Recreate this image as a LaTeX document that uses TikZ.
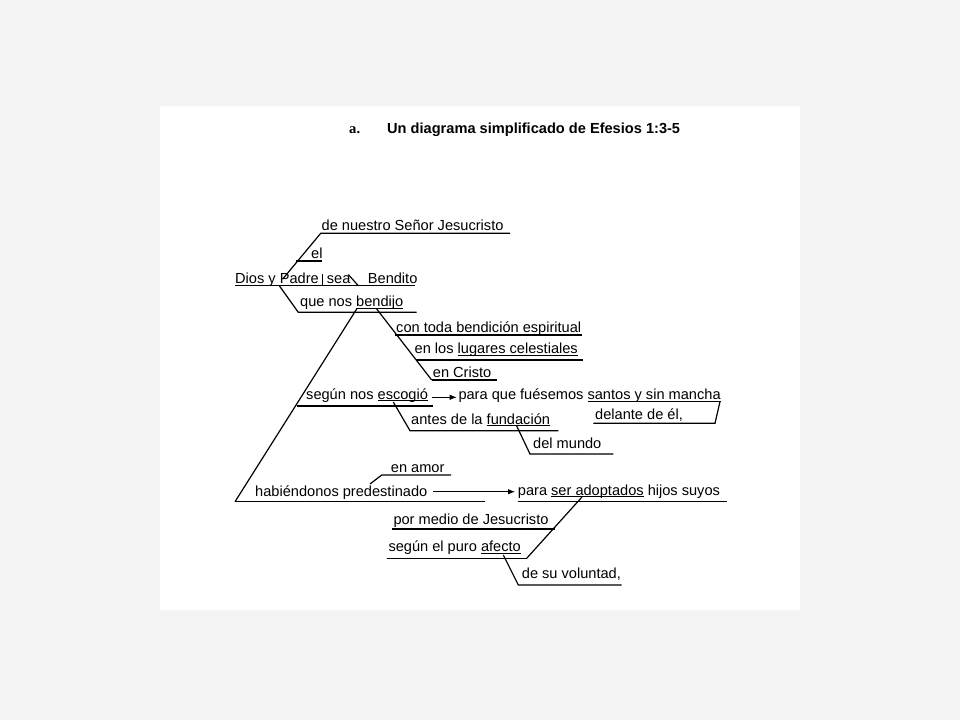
\documentclass[tikz,border=0pt]{standalone}
\usepackage{fontspec}
\setmainfont{Liberation Sans}
\newfontfamily\serifbold{Liberation Serif}
\usepackage{tikz}
\usetikzlibrary{arrows.meta}

\definecolor{pagegray}{RGB}{243,243,243}
% underlined word, as in the printed diagram
\newcommand\undl[1]{\setbox0\hbox{#1}\rlap{\rule[-2.2pt]{\wd0}{0.9pt}}\box0\relax}

\begin{document}
\begin{tikzpicture}[x=1pt,y=-1pt,
        lbl/.style={anchor=base west,inner sep=0pt,font=\fontsize{14.6}{17}\selectfont},
        bar/.style={line width=1.2pt},
        arr/.style={line width=0.9pt,-{Latex[length=7pt,width=5.5pt]}}]
            \fill[pagegray] (0,0) rectangle (960,720);
            \fill[white] (160,106) rectangle (800,610);
            \useasboundingbox (0,0) rectangle (960,720);
            % title
            \node[lbl,font=\serifbold\bfseries\fontsize{14.6}{17}\selectfont] (item) at (349,133.5) {a.};
            \node[lbl,font=\bfseries\fontsize{14.6}{17}\selectfont] (title) at (387,133.5) {Un diagrama simplificado de Efesios 1:3-5};
            % subject and verb
            \node[lbl] (dios) at (235,283.5) {Dios y Padre};
            \node[lbl] (sea) at (326.7,283.5) {sea};
            \node[lbl] (bendito) at (367.7,283.5) {Bendito};
            \coordinate (mainL) at (235,285.7);
            \coordinate (mainR) at (415,285.7);
            \coordinate (divT) at (322.7,274);
            \coordinate (divB) at (322.7,285.7);
            \coordinate (predT) at (348.3,274.5);
            \coordinate (predB) at (358.3,285.7);
            \draw[bar] (mainL) -- (mainR);
            \draw[bar] (divT) -- (divB);
            \draw[bar] (predT) -- (predB);
            % modifiers of Padre
            \node[lbl] (nuestro) at (321.5,230.5) {de nuestro Señor Jesucristo};
            \node[lbl] (el) at (311,258.5) {el};
            \coordinate (nuestroL) at (320.7,233.3);
            \coordinate (nuestroR) at (510,233.3);
            \coordinate (nuestroF) at (282.7,279);
            \coordinate (elL) at (296,261);
            \coordinate (elR) at (321.5,261);
            \draw[bar] (nuestroF) -- (nuestroL) -- (nuestroR);
            \draw[bar] (elL) -- (elR);
            % que nos bendijo
            \node[lbl] (bendijo) at (300,306.5) {que nos \undl{bendijo}};
            \coordinate (queT) at (279.3,285.7);
            \coordinate (queL) at (298.3,312.3);
            \coordinate (queR) at (416.7,312.3);
            \draw[bar] (queT) -- (queL) -- (queR);
            \coordinate (bigT) at (356.7,309);
            \coordinate (bigB) at (235,501.7);
            \draw[bar] (bigT) -- (bigB);
            \coordinate (conT) at (376.7,309);
            \coordinate (conB) at (431.7,380);
            \draw[bar] (conT) -- (conB);
            \node[lbl] (bendicion) at (396,332.5) {con toda bendición espiritual};
            \node[lbl] (lugares) at (414.5,353.3) {en los \undl{lugares celestiales}};
            \node[lbl] (cristo) at (432.7,377.5) {en Cristo};
            \coordinate (conL) at (395,335);
            \coordinate (conR) at (581.7,335);
            \coordinate (lugL) at (415.5,360);
            \coordinate (lugR) at (582.7,360);
            \coordinate (criR) at (496.7,380);
            \draw[bar] (conL) -- (conR);
            \draw[bar] (lugL) -- (lugR);
            \draw[bar] (conB) -- (criR);
            % segun nos escogio
            \node[lbl] (escogio) at (306,399) {según nos \undl{escogió}};
            \node[lbl] (santos) at (458.3,399.3) {para que fuésemos \undl{santos y sin mancha}};
            \coordinate (segL) at (296.5,406);
            \coordinate (segR) at (433.3,406);
            \draw[bar] (segL) -- (segR);
            \coordinate (arrA) at (431.7,397.3);
            \coordinate (arrB) at (456.7,397.3);
            \draw[arr] (arrA) -- (arrB);
            \node[lbl] (delante) at (595,419.5) {delante de él,};
            \coordinate (delT) at (720,401.5);
            \coordinate (delB) at (715,423.3);
            \coordinate (delL) at (593.3,423.3);
            \draw[bar] (delT) -- (delB) -- (delL);
            \node[lbl] (fundacion) at (411,424) {antes de la \undl{fundación}};
            \coordinate (antT) at (393.3,402);
            \coordinate (antL) at (410,430.7);
            \coordinate (antR) at (558.3,430.7);
            \draw[bar] (antT) -- (antL) -- (antR);
            \node[lbl] (mundo) at (533,448.5) {del mundo};
            \coordinate (munT) at (516.7,426);
            \coordinate (munL) at (530,454);
            \coordinate (munR) at (613.3,454);
            \draw[bar] (munT) -- (munL) -- (munR);
            % habiendonos predestinado
            \node[lbl] (amor) at (390.7,472.5) {en amor};
            \coordinate (amoT) at (370,484);
            \coordinate (amoL) at (381.7,475);
            \coordinate (amoR) at (451,475);
            \draw[bar] (amoT) -- (amoL) -- (amoR);
            \node[lbl] (predest) at (255,496) {habiéndonos predestinado};
            \coordinate (habR) at (485,501.7);
            \draw[bar] (bigB) -- (habR);
            \coordinate (arrC) at (433.3,491.7);
            \coordinate (arrD) at (515,491.7);
            \draw[arr] (arrC) -- (arrD);
            \node[lbl] (adoptados) at (517.7,495) {para \undl{ser adoptados} hijos suyos};
            \coordinate (parL) at (517.7,501.7);
            \coordinate (parR) at (726.7,501.7);
            \draw[bar] (parL) -- (parR);
            \coordinate (adoT) at (582,497);
            \coordinate (adoB) at (526.7,558.3);
            \draw[bar] (adoT) -- (adoB);
            \node[lbl] (jesucristo) at (393.3,524.5) {por medio de Jesucristo};
            \coordinate (porL) at (391.7,529);
            \coordinate (porR) at (555,529);
            \draw[bar] (porL) -- (porR);
            \node[lbl] (afecto) at (388.3,551.5) {según el puro \undl{afecto}};
            \coordinate (afeL) at (386.7,558.3);
            \draw[bar] (afeL) -- (adoB);
            \node[lbl] (voluntad) at (521.7,578.5) {de su voluntad,};
            \coordinate (volT) at (503.3,555);
            \coordinate (volL) at (518.3,585);
            \coordinate (volR) at (621.7,585);
            \draw[bar] (volT) -- (volL) -- (volR);
        \end{tikzpicture}
\end{document}
